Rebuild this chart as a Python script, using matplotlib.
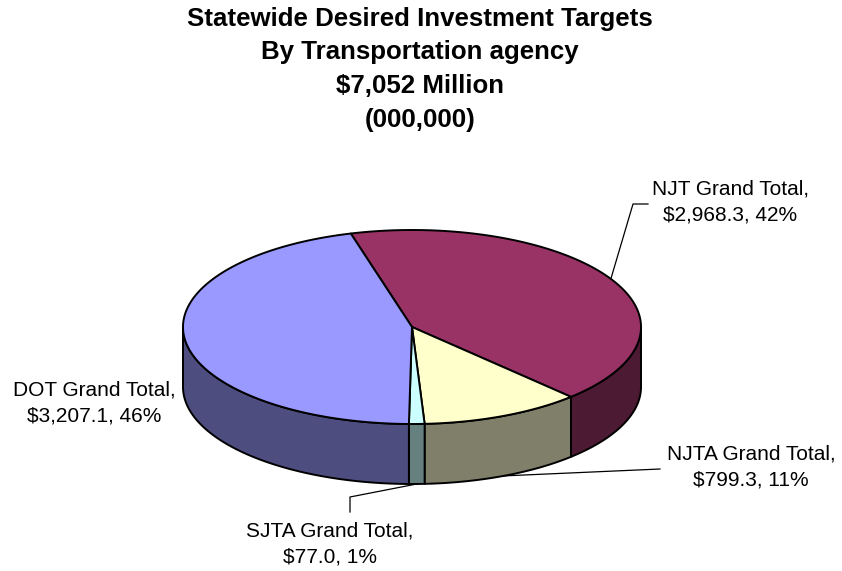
import numpy as np
import matplotlib
matplotlib.use("Agg")
import matplotlib.pyplot as plt
from matplotlib.patches import Polygon

# ---- data ----
categories = ["NJT", "NJTA", "SJTA", "DOT"]
values = [2968.3, 799.3, 77.0, 3207.1]
percents = ["42%", "11%", "1%", "46%"]
title_lines = ["Statewide Desired Investment Targets", "By Transportation agency",
               "$7,052 Million", "(000,000)"]

top_colors = ["#993366", "#FFFFCC", "#CCFFFF", "#9999FF"]
side_colors = ["#4D1A33", "#80806A", "#668080", "#4D4D80"]

# ---- layout ----
W, H = 842, 571
fig = plt.figure(figsize=(W / 100, H / 100), dpi=100)
ax = fig.add_axes([0, 0, 1, 1])
ax.set_xlim(0, W)
ax.set_ylim(H, 0)
ax.axis("off")

cx, cy, a, b, depth = 412, 327, 229, 97, 60
start = 105.5  # degrees, boundary DOT/NJT

total = sum(values)
angles = []
cur = start
for v in values:
    sweep = 360.0 * v / total
    angles.append((cur - sweep, cur))
    cur -= sweep


def pt(t, dy=0.0):
    r = np.radians(t)
    return cx + a * np.cos(r), cy - b * np.sin(r) + dy


def arc(t0, t1, dy=0.0, n=None):
    n = n or max(2, int(abs(t1 - t0)) * 2 + 2)
    ts = np.linspace(t0, t1, n)
    r = np.radians(ts)
    return np.column_stack([cx + a * np.cos(r), cy - b * np.sin(r) + dy])


lw = 1.4
# side faces (front half: sin <= 0)
for (lo, hi), sc in zip(angles, side_colors):
    for k in range(-2, 2):
        flo, fhi = -180 + 360 * k, 0 + 360 * k
        s, e = max(lo, flo), min(hi, fhi)
        if e > s:
            top = arc(s, e)
            bot = arc(e, s, dy=depth)
            poly = np.vstack([top, bot])
            ax.add_patch(Polygon(poly, closed=True, facecolor=sc,
                                 edgecolor="black", lw=lw, joinstyle="round"))

# top wedges
for (lo, hi), tc in zip(angles, top_colors):
    pts = np.vstack([[cx, cy], arc(lo, hi)])
    ax.add_patch(Polygon(pts, closed=True, facecolor=tc, edgecolor="black",
                         lw=lw, joinstyle="round"))

# ---- labels ----
fs = 15
lbl_font = ["Liberation Sans", "DejaVu Sans"]
label_pos = [(730, 202), (751, 467), (330, 544), (94, 403)]
for cat, v, p, (lx, ly) in zip(categories, values, percents, label_pos):
    ax.text(lx, ly, f"{cat} Grand Total,\n${v:,.1f}, {p}", ha="center",
            va="center", fontsize=fs, family=lbl_font, linespacing=1.45)

# leader lines
mids = [(lo + hi) / 2 for lo, hi in angles]
# NJT -> top edge
x0, y0 = pt(mids[0])
ax.plot([648, 633, x0], [204, 204, y0], color="black", lw=0.9)
# NJTA -> bottom edge
x1, y1 = pt(mids[1], depth)
ax.plot([660, x1], [469, y1], color="black", lw=0.9)
# SJTA -> bottom edge
x2, y2 = pt(mids[2], depth)
ax.plot([350, 350, x2], [512, 497, y2], color="black", lw=0.9)

# ---- title ----
for i, (line, y) in enumerate(zip(title_lines, [19, 52, 86, 120])):
    ax.text(420, y, line, ha="center", va="center", fontsize=18.6,
            fontweight="bold", family=lbl_font)

fig.savefig("out.png", dpi=100)
